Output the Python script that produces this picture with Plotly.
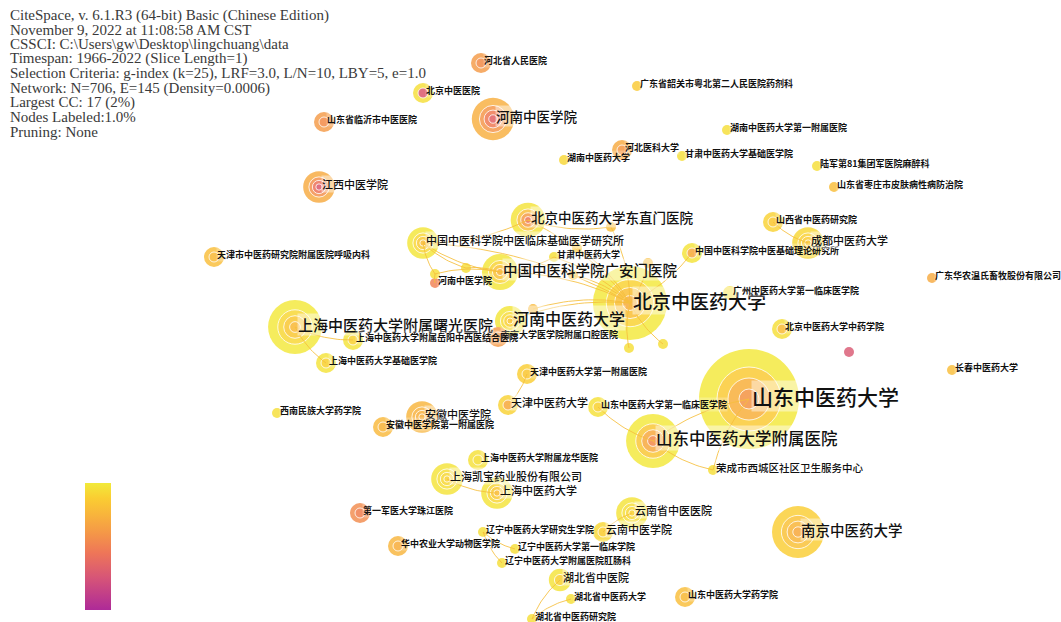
import numpy as np
import plotly.graph_objects as go

# ---------------- data ----------------
header_lines = [
    "CiteSpace, v. 6.1.R3 (64-bit) Basic (Chinese Edition)",
    "November 9, 2022 at 11:08:58 AM CST",
    "CSSCI: C:\\Users\\gw\\Desktop\\lingchuang\\data",
    "Timespan: 1966-2022 (Slice Length=1)",
    "Selection Criteria: g-index (k=25), LRF=3.0, L/N=10, LBY=5, e=1.0",
    "Network: N=706, E=145 (Density=0.0006)",
    "Largest CC: 17 (2%)",
    "Nodes Labeled:1.0%",
    "Pruning: None",
]

# node keys, labels, layout coordinates, frequency counts, first / last year (normalised 0..1)
node_keys = [
    "hbrm", "bjzyyy", "hnzyxy", "lyzyy", "jxzyxy", "hnzydx", "hbykdx", "sgyj",
    "hnfy", "gsjc", "lj81", "zzpf", "dzm", "lcjc", "gszydx", "gam", "hnzyxy2",
    "bjzydx", "hnzyd", "njkq", "sg", "yy", "shjc", "tjhx", "jcll", "sxyjy", "cd",
    "wens", "gzlc", "bjzyx", "red", "cc", "sdzydx", "sdlc", "sdfy", "rc", "tjfy",
    "tjzydx", "xnmz", "ahzyxy", "ahfy", "lh", "kb", "shzydx", "zj", "ynsy", "ynzy",
    "lnyjs", "lnlc", "lngc", "hzny", "hbszyy", "hbzydx", "hbyjy", "sdyx", "njzydx",
    "u1", "u2", "u3", "u4", "u5", "u6", "u7", "u8", "u9",
]
node_labels = [
    "河北省人民医院", "北京中医医院", "河南中医学院", "山东省临沂市中医医院", "江西中医学院",
    "湖南中医药大学", "河北医科大学", "广东省韶关市粤北第二人民医院药剂科",
    "湖南中医药大学第一附属医院", "甘肃中医药大学基础医学院", "陆军第81集团军医院麻醉科",
    "山东省枣庄市皮肤病性病防治院", "北京中医药大学东直门医院", "中国中医科学院中医临床基础医学研究所",
    "甘肃中医药大学", "中国中医科学院广安门医院", "河南中医学院", "北京中医药大学", "河南中医药大学",
    "南京大学医学院附属口腔医院", "上海中医药大学附属曙光医院", "上海中医药大学附属岳阳中西医结合医院",
    "上海中医药大学基础医学院", "天津市中医药研究院附属医院呼吸内科", "中国中医科学院中医基础理论研究所",
    "山西省中医药研究院", "成都中医药大学", "广东华农温氏畜牧股份有限公司", "广州中医药大学第一临床医学院",
    "北京中医药大学中药学院", "", "长春中医药大学", "山东中医药大学", "山东中医药大学第一临床医学院",
    "山东中医药大学附属医院", "荣成市西城区社区卫生服务中心", "天津中医药大学第一附属医院", "天津中医药大学",
    "西南民族大学药学院", "安徽中医学院", "安徽中医学院第一附属医院", "上海中医药大学附属龙华医院",
    "上海凯宝药业股份有限公司", "上海中医药大学", "第一军医大学珠江医院", "云南省中医医院", "云南中医学院",
    "辽宁中医药大学研究生学院", "辽宁中医药大学第一临床学院", "辽宁中医药大学附属医院肛肠科",
    "华中农业大学动物医学院", "湖北省中医院", "湖北省中医药大学", "湖北省中医药研究院",
    "山东中医药大学药学院", "南京中医药大学",
    "", "", "", "", "", "", "", "", "",
]
node_x = [481, 423, 493, 324, 319, 564, 622, 637, 727, 682, 817, 834, 528, 423, 554, 500, 435,
          630, 510, 498, 295, 353, 326, 214, 692, 773, 808, 932, 730, 782, 849, 952, 749, 598,
          653, 713, 527, 508, 277, 422, 383, 478, 447, 497, 360, 632, 603, 483, 515, 502, 398,
          560, 571, 532, 685, 798,
          629, 663, 611, 648, 577, 573, 533, 466, 435]
node_y = [63, 93, 119, 122, 187, 160, 150, 86, 130, 156, 166, 187, 220, 243, 257, 272, 283,
          303, 321, 337, 327, 340, 363, 257, 253, 222, 243, 278, 293, 329, 352, 370, 399, 407,
          441, 470, 374, 405, 413, 417, 427, 460, 479, 493, 513, 513, 532, 532, 549, 563, 546,
          580, 599, 619, 597, 532,
          348, 344, 227, 263, 248, 275, 309, 268, 274]
node_count = [4, 4, 18, 4, 10, 1, 4, 1, 1, 1, 1, 1, 12, 10, 1, 13, 1,
              55, 9, 4, 29, 4, 4, 4, 4, 4, 10, 1, 2, 4, 1, 1, 100, 4,
              29, 1, 4, 4, 1, 10, 4, 4, 10, 10, 4, 10, 4, 1, 1, 1, 4,
              5, 1, 1, 4, 27,
              1, 1, 1, 1, 1, 1, 1, 1, 1]
node_first = [0.56, 0.30, 0.35, 0.56, 0.30, 0.92, 0.62, 0.86, 0.95, 0.95, 0.95, 0.80, 0.45, 0.80, 0.95, 0.75, 0.50,
              0.72, 0.85, 0.62, 0.78, 0.90, 0.90, 0.78, 0.70, 0.85, 0.85, 0.70, 0.95, 0.80, 0.28, 0.80, 0.60, 0.90,
              0.55, 0.95, 0.85, 0.70, 0.95, 0.72, 0.75, 0.95, 0.90, 0.80, 0.50, 0.90, 0.88, 0.95, 0.95, 0.95, 0.72,
              0.90, 0.95, 0.95, 0.78, 0.70,
              0.95, 0.95, 0.80, 0.80, 0.85, 0.85, 0.78, 0.95, 0.95]
node_last = [0.62, 0.95, 0.72, 0.62, 0.70, 0.92, 0.70, 0.86, 0.95, 0.95, 0.95, 0.80, 0.97, 0.98, 0.95, 0.98, 0.50,
             0.99, 0.98, 0.62, 0.99, 0.97, 0.97, 0.80, 0.97, 0.90, 0.92, 0.70, 0.95, 0.95, 0.28, 0.80, 0.99, 0.96,
             0.99, 0.95, 0.88, 0.90, 0.95, 0.75, 0.77, 0.96, 0.97, 0.97, 0.55, 0.97, 0.92, 0.95, 0.95, 0.95, 0.75,
             0.97, 0.95, 0.95, 0.80, 0.88,
             0.95, 0.95, 0.80, 0.80, 0.85, 0.85, 0.78, 0.95, 0.95]

edges = [
    ("bjzydx", "gam"), ("bjzydx", "dzm"), ("bjzydx", "lcjc"), ("bjzydx", "gszydx"),
    ("bjzydx", "jcll"), ("bjzydx", "u1"), ("bjzydx", "u2"), ("bjzydx", "u3"), ("bjzydx", "u4"),
    ("bjzydx", "u5"), ("bjzydx", "u6"), ("bjzydx", "u7"), ("bjzydx", "hnzyd"),
    ("lcjc", "gam"), ("lcjc", "dzm"), ("lcjc", "u9"), ("lcjc", "u8"),
    ("gam", "u8"), ("gam", "u9"), ("u9", "hnzyxy2"), ("dzm", "u3"), ("gam", "gszydx"),
    ("sxyjy", "cd"),
    ("sdzydx", "sdfy"), ("sdlc", "sdfy"), ("sdfy", "rc"), ("sdzydx", "rc"),
    ("tjzydx", "tjfy"),
    ("sg", "yy"), ("sg", "shjc"),
    ("kb", "shzydx"),
    ("ynsy", "ynzy"),
    ("lnyjs", "lnlc"), ("lnyjs", "lngc"),
    ("hbszyy", "hbyjy"), ("hbzydx", "hbyjy"),
]

# ---------------- styling ----------------
W, H = 1061, 622
STOPS = [(0.0, (174, 42, 152)), (0.25, (214, 84, 120)), (0.45, (238, 118, 88)),
         (0.6, (244, 150, 72)), (0.75, (248, 180, 60)), (0.88, (250, 205, 50)),
         (1.0, (242, 234, 58))]


def cmap(t, light=0.18):
    t = min(max(t, 0), 1)
    for (t0, c0), (t1, c1) in zip(STOPS[:-1], STOPS[1:]):
        if t <= t1:
            f = (t - t0) / (t1 - t0) if t1 > t0 else 0
            c = [c0[i] + f * (c1[i] - c0[i]) for i in range(3)]
            break
    c = [ci + light * (255 - ci) for ci in c]
    return "rgb(%d,%d,%d)" % tuple(int(round(v)) for v in c)


big_font = {
    "山东中医药大学": 21, "北京中医药大学": 19, "山东中医药大学附属医院": 16.5,
    "河南中医药大学": 16, "上海中医药大学附属曙光医院": 15, "中国中医科学院广安门医院": 14.5,
    "南京中医药大学": 14.5, "北京中医药大学东直门医院": 13.5, "河南中医学院#big": 13.5,
    "中国中医科学院中医临床基础医学研究所": 11, "江西中医学院": 11, "成都中医药大学": 11,
    "天津中医药大学": 11, "安徽中医学院": 11, "上海凯宝药业股份有限公司": 11, "上海中医药大学": 11,
    "云南省中医医院": 11, "云南中医学院": 11, "湖北省中医院": 11, "荣成市西城区社区卫生服务中心": 10.5,
}

fig = go.Figure()

idx = {k: i for i, k in enumerate(node_keys)}
radius = [5 * np.sqrt(c) for c in node_count]

# nodes as concentric rings (outer = latest year, inner = earliest)
fracs4 = [1.0, 0.64, 0.42, 0.2]
fracs2 = [1.0, 0.5]
for lev in range(4):
    xs, ys, ss, cs = [], [], [], []
    for i in range(len(node_keys)):
        r = radius[i]
        fr = fracs4 if r >= 14 else (fracs2 if r >= 8 else [1.0])
        if lev >= len(fr):
            continue
        k = lev / max(len(fr) - 1, 1)
        t = node_last[i] + k * (node_first[i] - node_last[i])
        xs.append(node_x[i]); ys.append(node_y[i])
        ss.append(2 * r * fr[lev])
        cs.append(cmap(t, 0.12 + 0.06 * (1 - k)))
    fig.add_trace(go.Scatter(
        x=xs, y=ys, mode="markers", hoverinfo="skip", showlegend=False,
        marker=dict(size=ss, color=cs, opacity=1,
                    line=dict(color="rgba(255,255,255,0.9)" if lev > 0 else "rgba(0,0,0,0)",
                              width=0.9)),
    ))

# edges as gentle curves
ex, ey = [], []
for a, b in edges:
    x0, y0 = node_x[idx[a]], node_y[idx[a]]
    x1, y1 = node_x[idx[b]], node_y[idx[b]]
    dx, dy = x1 - x0, y1 - y0
    cx, cy = (x0 + x1) / 2 - 0.12 * dy, (y0 + y1) / 2 + 0.12 * dx
    tt = np.linspace(0, 1, 20)
    bx = (1 - tt) ** 2 * x0 + 2 * (1 - tt) * tt * cx + tt ** 2 * x1
    by = (1 - tt) ** 2 * y0 + 2 * (1 - tt) * tt * cy + tt ** 2 * y1
    ex += list(bx) + [None]
    ey += list(by) + [None]
fig.add_trace(go.Scatter(x=ex, y=ey, mode="lines", hoverinfo="skip", showlegend=False,
                         line=dict(color="rgba(246,190,60,0.85)", width=1)))

# colour bar
fig.add_trace(go.Scatter(
    x=[-500], y=[-500], mode="markers", hoverinfo="skip", showlegend=False,
    marker=dict(color=[0, 1], cmin=0, cmax=1, size=1,
                colorscale=[[s, "rgb(%d,%d,%d)" % c] for s, c in STOPS],
                showscale=True,
                colorbar=dict(x=85 / W, xanchor="left", y=12 / H, yanchor="bottom",
                              len=127 / H, lenmode="fraction", thickness=26,
                              xpad=0, ypad=0, outlinewidth=0, showticklabels=False,
                              ticks="")),
))

annotations = []
for i, lab in enumerate(node_labels):
    if not lab:
        continue
    key = lab + "#big" if (lab == "河南中医学院" and node_count[i] > 5) else lab
    fs = big_font.get(key, 9)
    big = fs > 10
    annotations.append(dict(
        x=node_x[i] + 2, y=node_y[i] - 3, xref="x", yref="y", text=lab, showarrow=False,
        xanchor="left", yanchor="middle",
        font=dict(family="Noto Sans CJK SC", size=fs, color="#111111",
                  weight=500 if big else 700),
        bgcolor="rgba(255,255,255,0.45)" if big else "rgba(255,255,255,0.25)",
        borderpad=0,
    ))

for j, line in enumerate(header_lines):
    annotations.append(dict(
        x=9, y=15 + j * 14.6, xref="x", yref="y", text=line, showarrow=False,
        xanchor="left", yanchor="middle",
        font=dict(family="Liberation Serif", size=15, color="#3a3a3a"),
        borderpad=0,
    ))

fig.update_layout(
    width=W, height=H, autosize=False,
    margin=dict(l=0, r=0, t=0, b=0),
    paper_bgcolor="white", plot_bgcolor="white",
    xaxis=dict(range=[0, W], visible=False, fixedrange=True),
    yaxis=dict(range=[H, 0], visible=False, fixedrange=True),
    annotations=annotations,
)

fig.write_html("out.html", config={"displayModeBar": False},
               post_script="document.body.style.margin='0';document.body.style.overflow='hidden';")
